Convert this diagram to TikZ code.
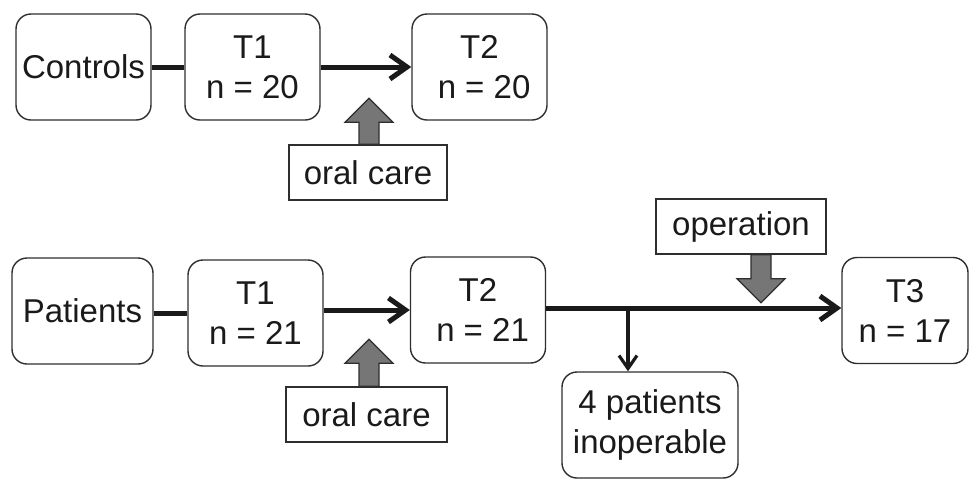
\documentclass[tikz,border=0pt]{standalone}
\usepackage{fontspec}
\setmainfont{Liberation Sans}
\usetikzlibrary{arrows.meta}
\definecolor{inkGray}{HTML}{1A1A1A}
\definecolor{boxLine}{HTML}{2E2E2E}
\definecolor{blockGray}{HTML}{767676}

\begin{document}
\begin{tikzpicture}[x=1pt, y=-1pt, font=\fontsize{33}{40}\selectfont, text=inkGray]

    \useasboundingbox (0,0) rectangle (969,480);

    % --- 1. Styles ---
    \tikzstyle{stage}=[draw=boxLine, line width=1.4pt, rounded corners=15pt, align=center, minimum width=135pt, minimum height=106pt, inner sep=0pt]
    \tikzstyle{event}=[draw=boxLine, line width=1.4pt, minimum height=55pt, inner sep=0pt]
    \tikzstyle{link}=[inkGray, line width=5pt]
    \tikzstyle{flow}=[inkGray, line width=5pt, -{Straight Barb[length=17pt, width=24pt]}]
    \tikzstyle{drop}=[inkGray, line width=3.2pt, -{Straight Barb[length=13pt, width=18pt]}]
    \tikzstyle{blockarrow}=[draw=boxLine, line width=1.2pt, fill=blockGray, line join=miter]


    % --- 2. Controls (top row) ---
    \node[stage] (controls) at (83.5, 67) {Controls};
    \node[stage] (ctlT1) at (252.5, 67) {T1\\n = 20};
    \node[stage] (ctlT2) at (479.5, 67) {T2\\\ n = 20};
    \node[event, minimum width=158pt] (careTop) at (368, 172.5) {oral care};

    \draw[link] (controls) -- (ctlT1);
    \draw[flow] (ctlT1) -- (ctlT2);

    % Gray arrow up from oral care
    \draw[blockarrow] ([xshift=-9pt]careTop.north) -- ++(0,-22) -- ++(-14,0)
        -- ++(24,-24) -- ++(24,24) -- ++(-14,0) -- ++(0,22) -- cycle;


    % --- 3. Patients (bottom row) ---
    \node[stage, minimum width=141pt] (patients) at (82.5, 311) {Patients};
    \node[stage] (patT1) at (255.5, 313) {T1\\n = 21};
    \node[stage] (patT2) at (478, 310) {T2\\\ n = 21};
    \node[stage, minimum width=126pt] (patT3) at (905, 310.5) {T3\\n = 17};
    \node[event, minimum width=161pt] (careLow) at (366.5, 414.5) {oral care};
    \node[event, minimum width=170pt] (operation) at (741, 226.5) {operation};
    \node[stage, minimum width=176pt] (inoperable) at (650, 425) {4 patients\\inoperable};

    \draw[link] (patients.east |- patT1.west) -- (patT1.west);
    \draw[flow] (patT1.east |- patT2.west) -- (patT2.west);
    \draw[flow] (patT2.east |- 0,308) -- (patT3.west |- 0,308);

    % Branch to the inoperable patients
    \coordinate (split) at (628, 308);
    \draw[drop] (split) -- (split |- inoperable.north);

    % Gray arrow up from oral care
    \draw[blockarrow] ([xshift=-7.5pt]careLow.north) -- ++(0,-23) -- ++(-14,0)
        -- ++(24,-24) -- ++(24,24) -- ++(-14,0) -- ++(0,23) -- cycle;

    % Gray arrow down from operation
    \draw[blockarrow] ([xshift=10pt]operation.south) -- ++(0,24) -- ++(-14,0)
        -- ++(24,24) -- ++(24,-24) -- ++(-14,0) -- ++(0,-24) -- cycle;

\end{tikzpicture}
\end{document}
